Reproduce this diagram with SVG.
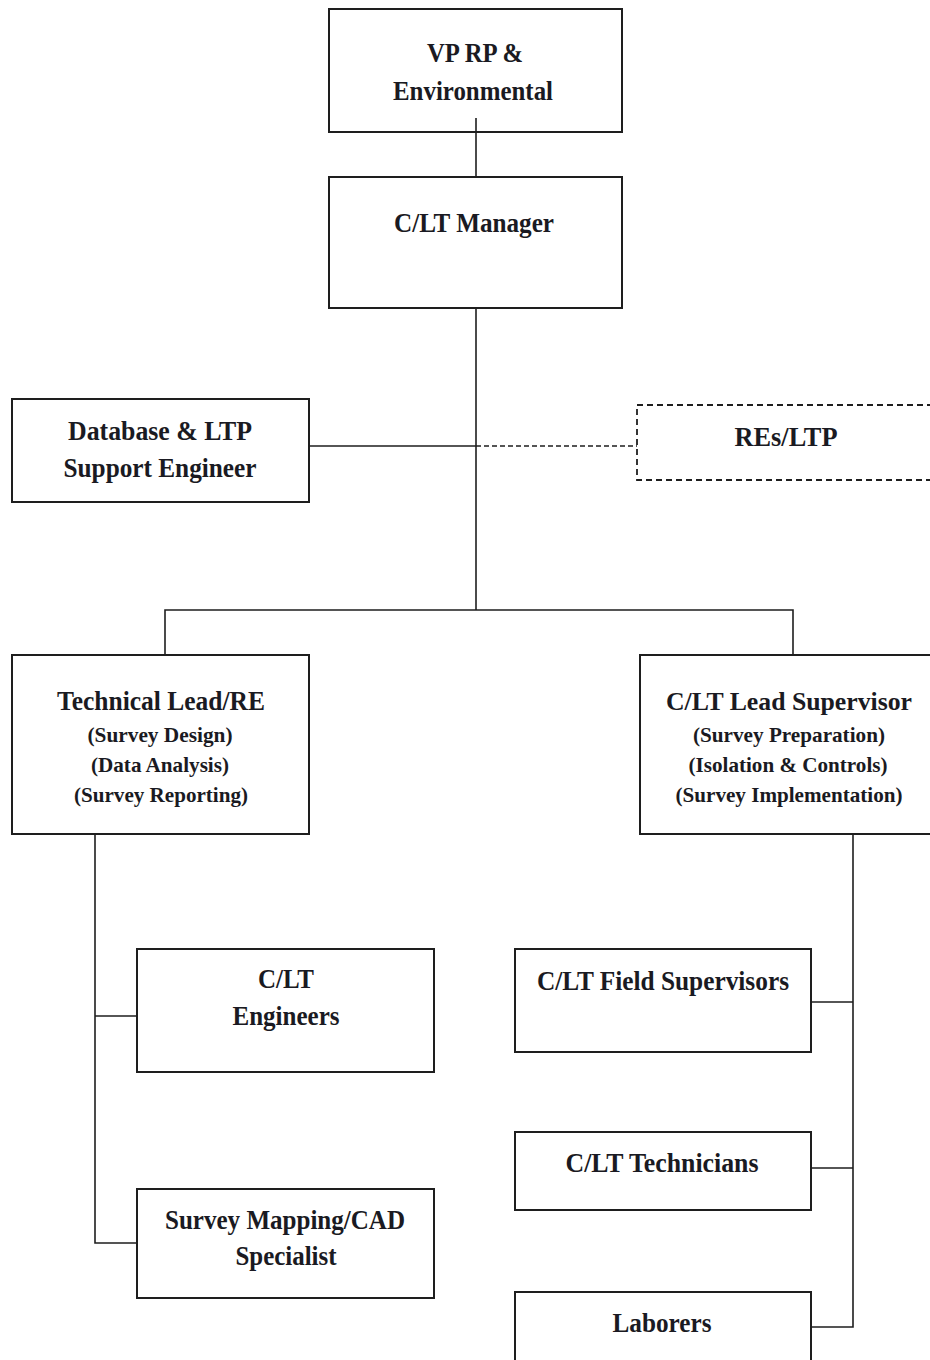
<svg xmlns="http://www.w3.org/2000/svg" width="930" height="1360" viewBox="0 0 930 1360">
<style>
.box{fill:#fff;stroke:#1e1e1e;stroke-width:2}
.dbox{fill:#fff;stroke:#1e1e1e;stroke-width:1.8;stroke-dasharray:6 4}
.ln{fill:none;stroke:#1e1e1e;stroke-width:1.6}
.dl{fill:none;stroke:#1e1e1e;stroke-width:1.6;stroke-dasharray:5 3}
text{font-family:"Liberation Serif","Times New Roman",serif;font-weight:bold;fill:#1a1a22;text-anchor:middle}
.t{font-size:28px}
.s{font-size:22px}
</style>
<rect width="930" height="1360" fill="#fff"/>
<g id="vp">
<rect class="box" x="329" y="9" width="293" height="123"/>
<text class="t" x="475" y="62" textLength="96" lengthAdjust="spacingAndGlyphs">VP RP &amp;</text>
<text class="t" x="473" y="100" textLength="160" lengthAdjust="spacingAndGlyphs">Environmental</text>
</g>
<g id="manager">
<rect class="box" x="329" y="177" width="293" height="131"/>
<text class="t" x="474" y="232" textLength="160" lengthAdjust="spacingAndGlyphs">C/LT Manager</text>
</g>
<g id="database">
<rect class="box" x="12" y="399" width="297" height="103"/>
<text class="t" x="160" y="440" textLength="184" lengthAdjust="spacingAndGlyphs">Database &amp; LTP</text>
<text class="t" x="160" y="477" textLength="193" lengthAdjust="spacingAndGlyphs">Support Engineer</text>
</g>
<g id="res-ltp">
<rect class="dbox" x="637" y="405" width="310" height="75"/>
<text class="t" x="786" y="446" textLength="103" lengthAdjust="spacingAndGlyphs">REs/LTP</text>
</g>
<g id="technical-lead">
<rect class="box" x="12" y="655" width="297" height="179"/>
<text class="t" x="161" y="710" textLength="208" lengthAdjust="spacingAndGlyphs">Technical Lead/RE</text>
<text class="s" x="160" y="742" textLength="145" lengthAdjust="spacingAndGlyphs">(Survey Design)</text>
<text class="s" x="160" y="772" textLength="138" lengthAdjust="spacingAndGlyphs">(Data Analysis)</text>
<text class="s" x="161" y="802" textLength="174" lengthAdjust="spacingAndGlyphs">(Survey Reporting)</text>
</g>
<g id="lead-supervisor">
<rect class="box" x="640" y="655" width="310" height="179"/>
<text x="789" y="710" font-size="26" textLength="246" lengthAdjust="spacingAndGlyphs">C/LT Lead Supervisor</text>
<text class="s" x="789" y="742" textLength="192" lengthAdjust="spacingAndGlyphs">(Survey Preparation)</text>
<text class="s" x="788" y="772" textLength="199" lengthAdjust="spacingAndGlyphs">(Isolation &amp; Controls)</text>
<text class="s" x="789" y="802" textLength="227" lengthAdjust="spacingAndGlyphs">(Survey Implementation)</text>
</g>
<g id="engineers">
<rect class="box" x="137" y="949" width="297" height="123"/>
<text class="t" x="286" y="988" textLength="56" lengthAdjust="spacingAndGlyphs">C/LT</text>
<text class="t" x="286" y="1025" textLength="107" lengthAdjust="spacingAndGlyphs">Engineers</text>
</g>
<g id="survey-mapping">
<rect class="box" x="137" y="1189" width="297" height="109"/>
<text class="t" x="285" y="1229" textLength="240" lengthAdjust="spacingAndGlyphs">Survey Mapping/CAD</text>
<text class="t" x="286" y="1265" textLength="101" lengthAdjust="spacingAndGlyphs">Specialist</text>
</g>
<g id="field-supervisors">
<rect class="box" x="515" y="949" width="296" height="103"/>
<text class="t" x="663" y="990" textLength="252" lengthAdjust="spacingAndGlyphs">C/LT Field Supervisors</text>
</g>
<g id="technicians">
<rect class="box" x="515" y="1132" width="296" height="78"/>
<text class="t" x="662" y="1172" textLength="193" lengthAdjust="spacingAndGlyphs">C/LT Technicians</text>
</g>
<g id="laborers">
<rect class="box" x="515" y="1292" width="296" height="90"/>
<text class="t" x="662" y="1332" textLength="99" lengthAdjust="spacingAndGlyphs">Laborers</text>
</g>
<g id="connectors">
<line class="ln" x1="476" y1="118" x2="476" y2="177"/>
<line class="ln" x1="476" y1="308" x2="476" y2="610"/>
<line class="ln" x1="309" y1="446" x2="476" y2="446"/>
<line class="dl" x1="476" y1="446" x2="637" y2="446"/>
<polyline class="ln" points="165,655 165,610 793,610 793,655"/>
<polyline class="ln" points="95,834 95,1243 137,1243"/>
<line class="ln" x1="95" y1="1016" x2="137" y2="1016"/>
<polyline class="ln" points="853,834 853,1327 811,1327"/>
<line class="ln" x1="811" y1="1002" x2="853" y2="1002"/>
<line class="ln" x1="811" y1="1168" x2="853" y2="1168"/>
</g>
</svg>
